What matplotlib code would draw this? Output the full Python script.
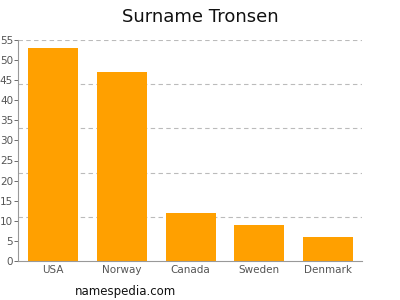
import numpy as np
import matplotlib
matplotlib.use("Agg")
import matplotlib.pyplot as plt

countries = ["USA", "Norway", "Canada", "Sweden", "Denmark"]
counts = [53, 47, 12, 9, 6]
ytick_vals = [0, 5, 10, 15, 20, 25, 30, 35, 40, 45, 50, 55]
grid_vals = [11, 22, 33, 44, 55]

fig = plt.figure(figsize=(4, 3), dpi=100)
ax = fig.add_axes([0.045, 0.13, 0.86, 0.737])

x = np.arange(len(countries))
ax.bar(x, counts, width=0.725, color="#ffa000", zorder=2)

# dashed guide lines (not on the tick values)
for g in grid_vals:
    ax.axhline(g, color="#bbbbbb", lw=0.8, ls=(0, (4, 3)), zorder=1)

ax.set_xlim(-0.507, 4.49)
ax.set_ylim(0, 55)
ax.set_xticks(x)
ax.set_xticklabels(countries)
ax.set_yticks(ytick_vals)
ax.tick_params(axis="both", labelsize=7.5, colors="#555555", length=3, width=0.6, pad=0.5)
ax.tick_params(axis="x", length=0, pad=3)

for s in ["top", "right"]:
    ax.spines[s].set_visible(False)
for s in ["left", "bottom"]:
    ax.spines[s].set_color("#999999")
    ax.spines[s].set_linewidth(0.8)

fig.text(0.5, 0.945, "Surname Tronsen", ha="center", va="center", fontsize=13, color="#111111")
fig.text(0.1875, 0.028, "namespedia.com", ha="left", va="center", fontsize=8.5, color="#111111")

fig.savefig("out.png", dpi=100)
